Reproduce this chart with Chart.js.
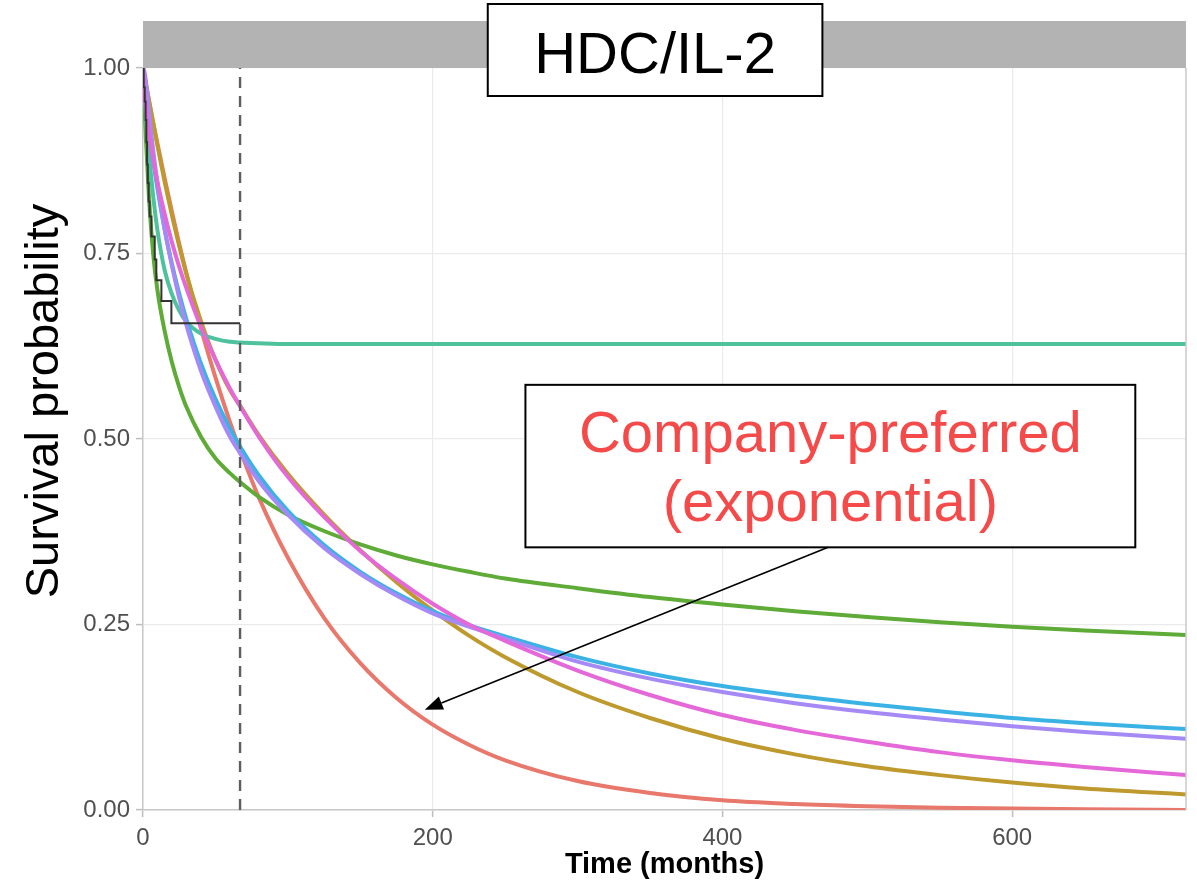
<!DOCTYPE html>
<html>
<head>
<meta charset="utf-8">
<script src="https://cdn.jsdelivr.net/npm/chart.js@4.4.1/dist/chart.umd.min.js"></script>
<style>
  html, body { margin: 0; padding: 0; background: #ffffff; }
  #wrap { width: 1197px; height: 885px; }
</style>
</head>
<body>
<div id="wrap"><canvas id="chart" width="1197" height="885"></canvas></div>
<script>
// Follow-up time (months) shared by every fitted curve
const months = [0, 1, 2, 4, 7, 10, 15, 20, 25, 30, 40, 50, 60, 67, 80, 100, 125, 150, 175, 200, 225, 250, 300, 350, 400, 450, 500, 550, 600, 650, 720];

// Fitted parametric survival curves
const exponential = [1, 0.989, 0.979, 0.958, 0.927, 0.898, 0.851, 0.806, 0.763, 0.723, 0.649, 0.583, 0.523, 0.485, 0.421, 0.340, 0.259, 0.198, 0.151, 0.115, 0.088, 0.067, 0.039, 0.023, 0.013, 0.008, 0.005, 0.003, 0.002, 0.001, 0.000];
const gamma       = [1, 0.990, 0.978, 0.957, 0.926, 0.895, 0.846, 0.801, 0.760, 0.722, 0.659, 0.607, 0.566, 0.545, 0.505, 0.453, 0.398, 0.350, 0.307, 0.269, 0.235, 0.206, 0.159, 0.124, 0.096, 0.075, 0.059, 0.047, 0.037, 0.029, 0.021];
const genGamma    = [1, 0.950, 0.905, 0.830, 0.750, 0.700, 0.645, 0.603, 0.570, 0.543, 0.503, 0.474, 0.454, 0.442, 0.422, 0.398, 0.376, 0.358, 0.343, 0.331, 0.321, 0.312, 0.299, 0.287, 0.277, 0.268, 0.260, 0.253, 0.247, 0.242, 0.236];
const gompertz    = [1, 0.967, 0.937, 0.887, 0.828, 0.781, 0.727, 0.695, 0.673, 0.658, 0.642, 0.635, 0.631, 0.630, 0.629, 0.628, 0.628, 0.628, 0.628, 0.628, 0.628, 0.628, 0.628, 0.628, 0.628, 0.628, 0.628, 0.628, 0.628, 0.628, 0.628];
const logLogistic = [1, 0.975, 0.955, 0.920, 0.875, 0.837, 0.782, 0.736, 0.696, 0.661, 0.602, 0.554, 0.514, 0.490, 0.451, 0.403, 0.357, 0.321, 0.292, 0.268, 0.249, 0.234, 0.206, 0.184, 0.167, 0.154, 0.143, 0.133, 0.124, 0.117, 0.109];
const logNormal   = [1, 0.995, 0.982, 0.945, 0.890, 0.845, 0.782, 0.733, 0.690, 0.653, 0.592, 0.544, 0.503, 0.481, 0.443, 0.398, 0.353, 0.318, 0.289, 0.265, 0.247, 0.231, 0.200, 0.177, 0.159, 0.144, 0.132, 0.122, 0.113, 0.105, 0.096];
const weibull     = [1, 0.966, 0.946, 0.914, 0.877, 0.846, 0.803, 0.765, 0.732, 0.703, 0.651, 0.607, 0.568, 0.544, 0.503, 0.449, 0.395, 0.349, 0.311, 0.278, 0.250, 0.228, 0.188, 0.155, 0.128, 0.108, 0.092, 0.078, 0.067, 0.058, 0.047];

// Kaplan-Meier estimate (observed data)
const kmMonths   = [0, 0.5, 1.2, 1.8, 2.3, 2.8, 3.3, 3.9, 4.6, 5.8, 8.1, 9.2, 12.7, 19.6, 67];
const kmSurvival = [1, 0.974, 0.955, 0.930, 0.900, 0.870, 0.845, 0.820, 0.800, 0.773, 0.742, 0.714, 0.686, 0.656, 0.656];

// End of observed follow-up
const followUpEnd = 67;

// Axis ticks
const xTicks = [0, 200, 400, 600];
const yTicks = [0, 0.25, 0.5, 0.75, 1];

const FONT = "'Liberation Sans', Arial, Helvetica, sans-serif";

const models = [
  { label: 'Exponential',        values: exponential, color: '#E8776C' },
  { label: 'Gamma',              values: gamma,       color: '#BE9A2E' },
  { label: 'Generalised gamma',  values: genGamma,    color: '#5EAB37' },
  { label: 'Gompertz',           values: gompertz,    color: '#4EC29D' },
  { label: 'Log-logistic',       values: logLogistic, color: '#3AB3E4' },
  { label: 'Log-normal',         values: logNormal,   color: '#A58AF5' },
  { label: 'Weibull',            values: weibull,     color: '#E468D8' }
];

const datasets = models.map((m, i) => ({
  label: m.label,
  data: months.map((t, k) => ({ x: t, y: m.values[k] })),
  borderColor: m.color,
  borderWidth: 4,
  pointRadius: 0,
  cubicInterpolationMode: 'monotone',
  fill: false,
  order: models.length - i + 1
}));

datasets.push({
  label: 'Kaplan-Meier',
  data: kmMonths.map((t, k) => ({ x: t, y: kmSurvival[k] })),
  borderColor: '#333333',
  borderWidth: 2,
  pointRadius: 0,
  stepped: true,
  fill: false,
  order: 1
});

datasets.push({
  label: 'End of follow-up',
  data: [{ x: followUpEnd, y: 0 }, { x: followUpEnd, y: 1 }],
  borderColor: '#5e5e5e',
  borderWidth: 2.4,
  borderDash: [11, 8],
  pointRadius: 0,
  fill: false,
  order: 0
});

// Panel strip, panel title, axis titles and the callout
const decorations = {
  id: 'decorations',
  afterDraw(chart) {
    const { ctx, chartArea: a, scales: { x, y } } = chart;
    ctx.save();

    // facet strip above the panel
    ctx.fillStyle = '#b3b3b3';
    ctx.fillRect(a.left, 21, a.right - a.left, a.top - 21);

    // right panel border
    ctx.strokeStyle = '#c8c8c8';
    ctx.lineWidth = 1.5;
    ctx.beginPath();
    ctx.moveTo(a.right, a.top);
    ctx.lineTo(a.right, a.bottom);
    ctx.stroke();

    // panel title box
    const tl = x.getPixelForValue(238), tr = x.getPixelForValue(469);
    ctx.fillStyle = '#ffffff';
    ctx.fillRect(tl, 4, tr - tl, 92);
    ctx.strokeStyle = '#000000';
    ctx.lineWidth = 2;
    ctx.strokeRect(tl, 4, tr - tl, 92);
    ctx.fillStyle = '#000000';
    ctx.font = '58px ' + FONT;
    ctx.textAlign = 'center';
    ctx.textBaseline = 'alphabetic';
    ctx.fillText('HDC/IL-2', (tl + tr) / 2, 73);

    // y axis title
    ctx.save();
    ctx.translate(58, 401);
    ctx.rotate(-Math.PI / 2);
    ctx.font = '47px ' + FONT;
    ctx.fillStyle = '#000000';
    ctx.textAlign = 'center';
    ctx.fillText('Survival probability', 0, 0);
    ctx.restore();

    // x axis title
    ctx.font = 'bold 29px ' + FONT;
    ctx.fillStyle = '#000000';
    ctx.textAlign = 'center';
    ctx.fillText('Time (months)', (a.left + a.right) / 2, 873);

    // callout box
    const bl = x.getPixelForValue(264), br = x.getPixelForValue(685);
    const bt = y.getPixelForValue(0.573), bb = y.getPixelForValue(0.354);
    ctx.fillStyle = '#ffffff';
    ctx.fillRect(bl, bt, br - bl, bb - bt);
    ctx.strokeStyle = '#000000';
    ctx.lineWidth = 2;
    ctx.strokeRect(bl, bt, br - bl, bb - bt);
    ctx.fillStyle = '#F44A4A';
    ctx.font = '58px ' + FONT;
    ctx.fillText('Company-preferred', (bl + br) / 2, bt + 67);
    ctx.fillText('(exponential)', (bl + br) / 2, bt + 136);

    // arrow towards the exponential curve
    const x0 = x.getPixelForValue(473), y0 = y.getPixelForValue(0.354);
    const x1 = x.getPixelForValue(194.5), y1 = y.getPixelForValue(0.135);
    const ang = Math.atan2(y1 - y0, x1 - x0);
    const head = 18, half = 7;
    const hx = x1 - head * Math.cos(ang), hy = y1 - head * Math.sin(ang);
    ctx.strokeStyle = '#000000';
    ctx.lineWidth = 1.6;
    ctx.beginPath();
    ctx.moveTo(x0, y0);
    ctx.lineTo(hx, hy);
    ctx.stroke();
    ctx.fillStyle = '#000000';
    ctx.beginPath();
    ctx.moveTo(x1, y1);
    ctx.lineTo(hx + half * Math.sin(ang), hy - half * Math.cos(ang));
    ctx.lineTo(hx - half * Math.sin(ang), hy + half * Math.cos(ang));
    ctx.closePath();
    ctx.fill();

    ctx.restore();
  }
};

const tickFont = { family: FONT, size: 24 };

new Chart(document.getElementById('chart').getContext('2d'), {
  type: 'line',
  data: { datasets },
  options: {
    responsive: false,
    animation: false,
    events: [],
    layout: { padding: { top: 68, right: 11, left: 0, bottom: 0 } },
    plugins: {
      legend: { display: false },
      tooltip: { enabled: false },
      title: { display: false }
    },
    scales: {
      x: {
        type: 'linear',
        min: 0,
        max: 720,
        afterBuildTicks: (s) => { s.ticks = xTicks.map(v => ({ value: v })); },
        afterFit: (s) => { s.height = 75; },
        ticks: {
          font: tickFont,
          color: '#505050',
          padding: 7,
          maxRotation: 0,
          callback: (v) => String(v)
        },
        grid: { color: '#ebebeb', lineWidth: 1.2, tickLength: 7, tickColor: '#bdbdbd', tickWidth: 1.5 },
        border: { display: true, color: '#c8c8c8', width: 1.5 }
      },
      y: {
        type: 'linear',
        min: 0,
        max: 1,
        afterBuildTicks: (s) => { s.ticks = yTicks.map(v => ({ value: v })); },
        afterFit: (s) => { s.width = 143; },
        ticks: {
          font: tickFont,
          color: '#505050',
          padding: 6,
          callback: (v) => Number(v).toFixed(2)
        },
        grid: { color: '#ebebeb', lineWidth: 1.2, tickLength: 7, tickColor: '#bdbdbd', tickWidth: 1.5 },
        border: { display: true, color: '#c8c8c8', width: 1.5 }
      }
    }
  },
  plugins: [decorations]
});
</script>
</body>
</html>
